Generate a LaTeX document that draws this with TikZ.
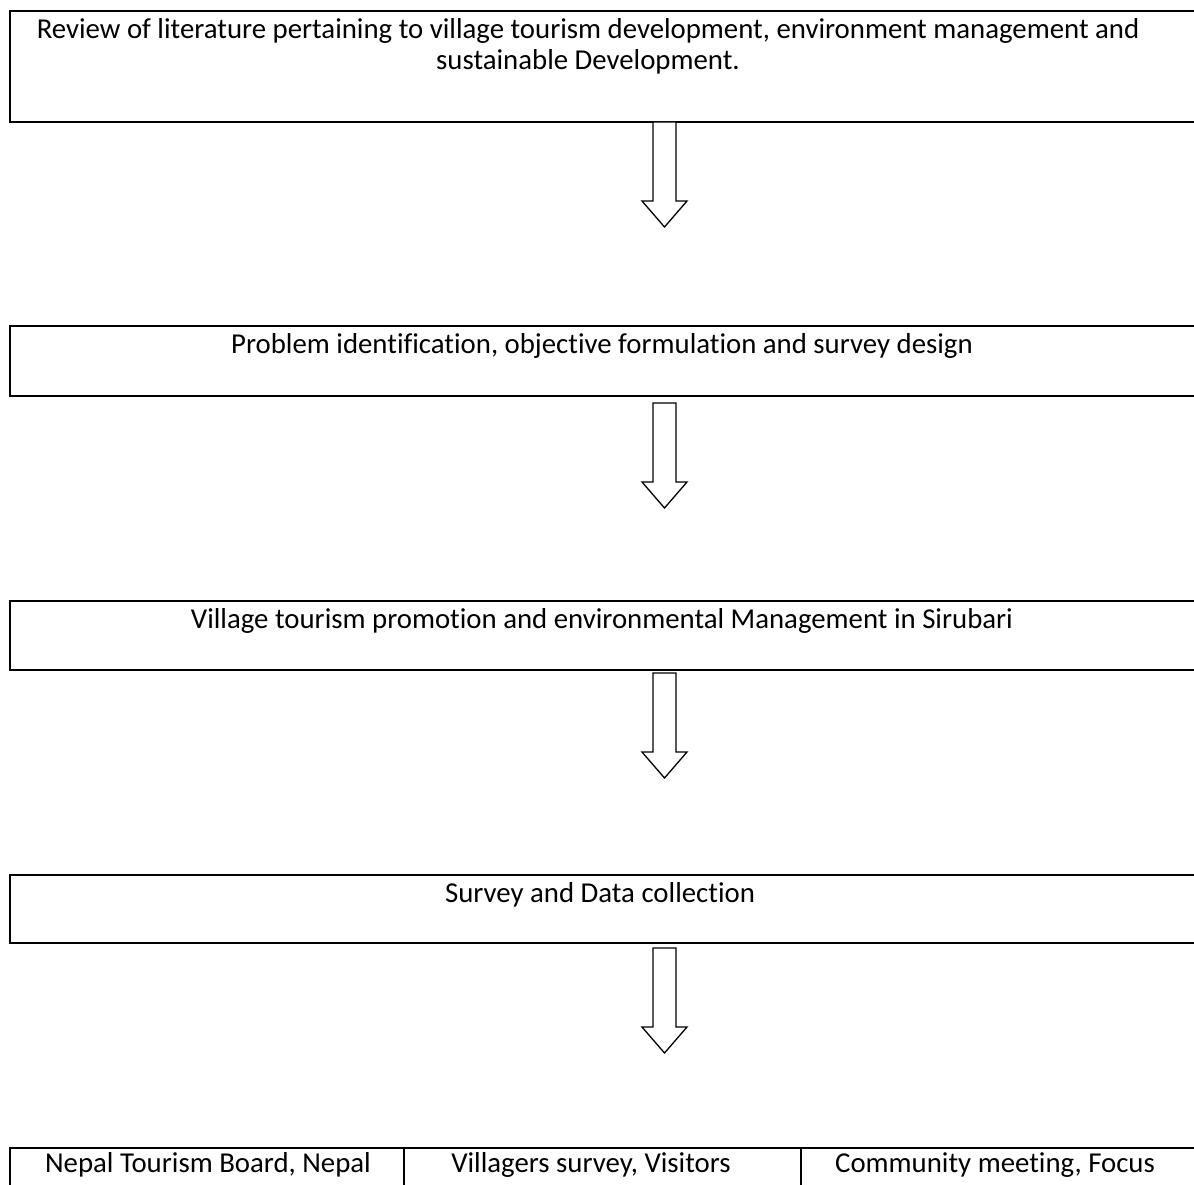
\documentclass[tikz,border=0pt]{standalone}
\usepackage{fontspec}
\setmainfont[Ligatures=NoCommon]{Carlito}
\begin{document}
\begin{tikzpicture}[x=1pt,y=-1pt,
  box/.style={draw, line width=2.2pt, rectangle, anchor=north west, inner sep=0pt},
  lbl/.style={font=\fontsize{28.8}{31}\selectfont, inner sep=0pt, anchor=base},
  arrowline/.style={draw, line width=1.3pt, fill=white, line join=miter},
  blockarrow/.pic={\path[arrowline] (-11.5,0) -- (-11.5,79) -- (-22.5,79) -- (0,105) -- (22.5,79) -- (11.5,79) -- (11.5,0) -- cycle;}
]
\useasboundingbox (0,0) rectangle (1194,1185);
\clip (0,0) rectangle (1194,1185);
% boxes
\node[box, minimum width=1201pt, minimum height=111pt] (b1) at (9,10) {};
\node[box, minimum width=1201pt, minimum height=70pt] (b2) at (9,325) {};
\node[box, minimum width=1201pt, minimum height=69pt] (b3) at (9,600) {};
\node[box, minimum width=1201pt, minimum height=68pt] (b4) at (9,874) {};
% bottom row cells
\node[box, minimum width=394pt, minimum height=80pt] (c1) at (9,1147) {};
\node[box, minimum width=397pt, minimum height=80pt] (c2) at (403,1147) {};
\node[box, minimum width=410pt, minimum height=80pt] (c3) at (800,1147) {};
% texts
\node[lbl] (t1a) at (588,39) {Review of literature pertaining to village tourism development, environment management and};
\node[lbl] (t1b) at (588,70) {sustainable Development.};
\node[lbl] (t2) at (602,353) {Problem identification, objective formulation and survey design};
\node[lbl] (t3) at (602,628) {Village tourism promotion and environmental Management in Sirubari};
\node[lbl] (t4) at (600,902) {Survey and Data collection};
\node[lbl] (t5) at (208,1172) {Nepal Tourism Board, Nepal};
\node[lbl] (t6) at (591,1172) {Villagers survey, Visitors};
\node[lbl] (t7) at (995,1172) {Community meeting, Focus};
% block arrows
\coordinate (a1) at (664.5,122);
\coordinate (a2) at (664.5,403);
\coordinate (a3) at (664.5,673);
\coordinate (a4) at (664.5,948);
\pic at (a1) {blockarrow};
\pic at (a2) {blockarrow};
\pic at (a3) {blockarrow};
\pic at (a4) {blockarrow};
\end{tikzpicture}
\end{document}
